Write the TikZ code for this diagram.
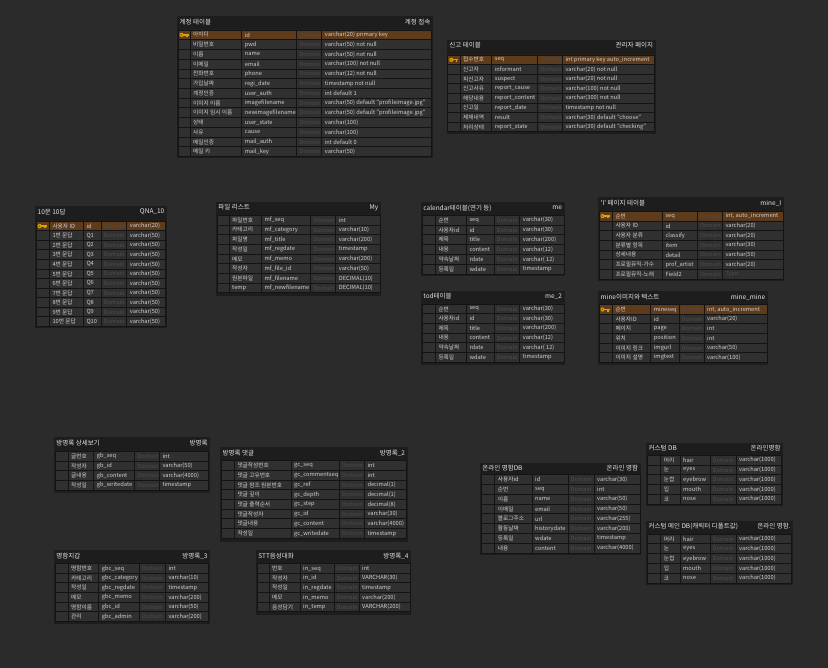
\documentclass[tikz,border=0pt]{standalone}
\usepackage{fontspec}
\setmainfont{Noto Sans CJK KR}

\definecolor{canvas}{HTML}{2B2B2B}
\definecolor{panelbg}{HTML}{1D1D1D}
\definecolor{cellbg}{HTML}{303030}
\definecolor{cellline}{HTML}{141414}
\definecolor{keybg}{HTML}{5E3B1B}
\definecolor{keygold}{HTML}{D8A300}
\definecolor{titletext}{HTML}{E6E6E6}
\definecolor{celltext}{HTML}{D0D0D0}
\definecolor{dimtext}{HTML}{4C4C4C}

\tikzset{
  panel/.style={fill=panelbg},
  cell/.style={fill=cellbg, draw=cellline, line width=0.9pt},
  keycell/.style={fill=keybg, draw=cellline, line width=0.9pt},
  ttitle/.style={text=titletext, font=\fontsize{6.5}{7}\selectfont, inner sep=0pt},
  ctext/.style={text=celltext, font=\fontsize{5.7}{6}\selectfont, inner sep=0pt, anchor=west},
  dtext/.style={ctext, text=dimtext},
}

% panel of one table: name, x1, y1, x2, y2, title y, left title, right title
\newcommand{\erpanel}[8]{%
  \fill[panel] (#2,#3) rectangle (#4,#5);
  \node[ttitle, anchor=west] (#1-tl) at (#2+2.5,#6) {#7};
  \node[ttitle, anchor=east] (#1-tr) at (#4-2.5,#6) {#8};
  \def\tbl{#1}}

% column edges, top of first row, row height
\newcommand{\ercols}[8]{\def\cA{#1}\def\cB{#2}\def\cC{#3}\def\cD{#4}\def\cE{#5}\def\cF{#6}\def\rT{#7}\def\rH{#8}}

% one row: style, index, logical, physical, type
\newcommand{\errow}[5]{%
  \pgfmathsetmacro{\rya}{\rT+(#2-1)*\rH}
  \pgfmathsetmacro{\ryb}{\rya+\rH}
  \pgfmathsetmacro{\rym}{\rya+\rH/2}
  \path[#1] (\cA,\rya) rectangle (\cB,\ryb) (\cB,\rya) rectangle (\cC,\ryb)
    (\cC,\rya) rectangle (\cD,\ryb) (\cD,\rya) rectangle (\cE,\ryb)
    (\cE,\rya) rectangle (\cF,\ryb);
  \node[ctext] (\tbl-#2-l) at (\cB+3,\rym) {#3};
  \node[ctext] (\tbl-#2-p) at (\cC+3,\rym) {#4};
  \node[dtext] (\tbl-#2-d) at (\cD+2.5,\rym) {Domain};
  \node[ctext] (\tbl-#2-t) at (\cE+3,\rym) {#5};}

% primary key row (always the first one)
\newcommand{\erkey}[3]{%
  \errow{keycell}{1}{#1}{#2}{#3}
  \fill[keygold] (\cA+3.6,\rym) circle (2.1);
  \fill[keygold] (\cA+4.8,\rym-0.9) rectangle (\cA+10.5,\rym+0.7);
  \fill[keygold] (\cA+8.3,\rym+0.7) rectangle (\cA+9.5,\rym+2.1);
  \fill[keybg] (\cA+3.3,\rym) circle (0.7);}

\begin{document}
\begin{tikzpicture}[x=1pt, y=-1pt]
\fill[canvas] (0,0) rectangle (828,668);
\useasboundingbox (0,0) rectangle (828,668);

% 계정 테이블
\erpanel{acct}{177}{16}{433}{158}{22}{계정 테이블}{계정 접속}
\ercols{178}{190}{241.7}{296.7}{321.7}{431.7}{30}{9.74}
\erkey{아이디}{id}{varchar(20) primary key}
\foreach \lname/\pname/\tname [count=\i from 2] in {
  비밀번호/pwd/varchar(50) not null, 이름/name/varchar(50) not null,
  이메일/email/varchar(100) not null, 전화번호/phone/varchar(12) not null,
  가입날짜/regi\_date/timestamp not null, 계정인증/user\_auth/int default 1,
  이미지 이름/imagefilename/varchar(50) default "profileimage.jpg",
  이미지 임시 이름/newimagefilename/varchar(50) default "profileimage.jpg",
  상태/user\_state/varchar(100), 사유/cause/varchar(100),
  메일인증/mail\_auth/int default 0, 메일 키/mail\_key/varchar(50)}
  {\errow{cell}{\i}{\lname}{\pname}{\tname}}

% 신고 테이블
\erpanel{report}{446.7}{40}{655.7}{134}{45.5}{신고 테이블}{관리자 페이지}
\ercols{447.7}{460}{491.7}{537.7}{562.3}{654.3}{55}{9.6}
\erkey{접수번호}{seq}{int primary key auto\_increment}
\foreach \lname/\pname/\tname [count=\i from 2] in {
  신고자/informant/varchar(20) not null, 피신고자/suspect/varchar(20) not null,
  신고사유/report\_cause/varchar(100) not null,
  해당내용/report\_content/varchar(300) not null,
  신고일/report\_date/timestamp not null,
  제재내역/result/varchar(30) default "choose",
  처리상태/report\_state/varchar(30) default "checking"}
  {\errow{cell}{\i}{\lname}{\pname}{\tname}}

% 10문 10답
\erpanel{qna}{35}{206}{167}{328.5}{212}{10문 10답}{QNA\_10}
\ercols{36}{49.3}{83.3}{101}{126.7}{165}{221.3}{9.55}
\erkey{사용자 ID}{id}{varchar(20)}
\foreach \n [count=\i from 2] in {1,...,10}
  {\errow{cell}{\i}{{\n}번 문답}{Q\n}{varchar(50)}}

% 파일 리스트
\erpanel{file}{215.7}{202}{381}{296}{207.5}{파일 리스트}{My}
\ercols{217}{229}{261.3}{310.7}{335.7}{380}{215.3}{9.7}
\foreach \lname/\pname/\tname [count=\i] in {
  파일번호/mf\_seq/int, 카테고리/mf\_category/varchar(10),
  파일명/mf\_title/varchar(200), 작성일/mf\_regdate/timestamp,
  메모/mf\_memo/varchar(200), 작성자/mf\_file\_id/varchar(50),
  원본파일/mf\_filename/DECIMAL(10), temp/mf\_newfilename/DECIMAL(10)}
  {\errow{cell}{\i}{\lname}{\pname}{\tname}}

% calendar / tod
\erpanel{cal}{420.7}{202}{564.7}{276.5}{208}{calendar테이블(연기 등)}{me}
\ercols{422}{435.3}{466.3}{494}{519.7}{564}{215.3}{9.78}
\foreach \lname/\pname/\tname [count=\i] in {
  순번/seq/varchar(30), 사용자id/id/varchar(30), 제목/title/varchar(200),
  내용/content/varchar(12), 약속날짜/rdate/varchar( 12), 등록일/wdate/timestamp}
  {\errow{cell}{\i}{\lname}{\pname}{\tname}}

\erpanel{tod}{420.7}{290.7}{564.7}{364.7}{296.5}{tod테이블}{me\_2}
\ercols{422}{435.3}{466.3}{494}{519.7}{564}{304}{9.67}
\foreach \lname/\pname/\tname [count=\i] in {
  순번/seq/varchar(30), 사용자id/id/varchar(30), 제목/title/varchar(200),
  내용/content/varchar(12), 약속날짜/rdate/varchar( 12), 등록일/wdate/timestamp}
  {\errow{cell}{\i}{\lname}{\pname}{\tname}}

% 'I' 페이지 / mine
\erpanel{minei}{598}{197.3}{784}{281}{203.5}{\textquotesingle I\textquotesingle{} 페이지 테이블}{mine\_I}
\ercols{599}{612.3}{662.3}{697.3}{722.3}{783}{211.3}{9.67}
\erkey{순번}{seq}{int, auto\_increment}
\foreach \lname/\pname/\tname [count=\i from 2] in {
  사용자 ID/id/varchar(20), 사용자 분류/classify/varchar(20),
  분류별 항목/item/varchar(30), 상세내용/detail/varchar(50),
  프로필뮤직-가수/prof\_artist/varchar(20),
  프로필뮤직-노래/Field2/\textcolor{dimtext}{Type}}
  {\errow{cell}{\i}{\lname}{\pname}{\tname}}

\erpanel{mine}{598}{290.7}{768}{364.7}{297}{mine이미지와 텍스트}{mine\_mine}
\ercols{599}{612.3}{650.7}{679}{704}{767}{304.7}{9.6}
\erkey{순번}{mineseq}{int, auto\_increment}
\foreach \lname/\pname/\tname [count=\i from 2] in {
  사용자ID/id/varchar(20), 페이지/page/int, 위치/position/int,
  이미지 링크/imgurl/varchar(50), 이미지 설명/imgtext/varchar(100)}
  {\errow{cell}{\i}{\lname}{\pname}{\tname}}

% 방명록
\erpanel{guest}{53.7}{437}{210.3}{493}{442.7}{방명록 상세보기}{방명록}
\ercols{55.3}{68}{93.7}{134.7}{159.3}{208.7}{451.3}{9.75}
\foreach \lname/\pname/\tname [count=\i] in {
  글번호/gb\_seq/int, 작성자/gb\_id/varchar(50),
  글내용/gb\_content/varchar(4000), 작성일/gb\_writedate/timestamp}
  {\errow{cell}{\i}{\lname}{\pname}{\tname}}

\erpanel{gcomm}{220}{447.3}{407.7}{541.7}{453.3}{방명록 댓글}{방명록\_2}
\ercols{221.3}{234.3}{291}{339.3}{364.3}{406}{460.7}{9.7}
\foreach \lname/\pname/\tname [count=\i] in {
  댓글작성번호/gc\_seq/int, 댓글 고유번호/gc\_commentseq/int,
  댓글 참조 원본번호/gc\_ref/decimal(1), 댓글 깊이/gc\_depth/decimal(1),
  댓글 출력순서/gc\_step/decimal(8), 댓글작성자/gc\_id/varchar(30),
  댓글내용/gc\_content/varchar(4000), 작성일/gc\_writedate/timestamp}
  {\errow{cell}{\i}{\lname}{\pname}{\tname}}

% 온라인 명함
\erpanel{card}{479.7}{463}{640.7}{555}{468}{온라인 명함DB}{온라인 명함}
\ercols{481.3}{494.7}{532}{568}{594}{640}{474.7}{9.8}
\foreach \lname/\pname/\tname [count=\i] in {
  사용자id/id/varchar(30), 순번/seq/int, 이름/name/varchar(50),
  이메일/email/varchar(50), 블로그주소/url/varchar(255),
  활동날짜/historydate/varchar(200), 등록일/wdate/timestamp,
  내용/content/varchar(4000)}
  {\errow{cell}{\i}{\lname}{\pname}{\tname}}

% 커스텀
\erpanel{custom}{646}{443}{783.3}{506.3}{448}{커스텀 DB}{온라인명함}
\ercols{647.3}{660.7}{680}{710}{736}{781.7}{455.3}{9.73}
\foreach \lname/\pname [count=\i] in {머리/hair, 눈/eyes, 눈썹/eyebrow, 입/mouth, 코/nose}
  {\errow{cell}{\i}{\lname}{\pname}{varchar(1000)}}

\erpanel{cmain}{646}{521.3}{793.3}{584.7}{526.5}{커스텀 메인 DB(캐릭터 디폴트값)}{온라인 명함.}
\ercols{647.3}{660.7}{680}{710}{736}{791.7}{534}{9.8}
\foreach \lname/\pname [count=\i] in {머리/hair, 눈/eyes, 눈썹/eyebrow, 입/mouth, 코/nose}
  {\errow{cell}{\i}{\lname}{\pname}{varchar(1000)}}

% 명함지갑 / STT
\erpanel{wallet}{53.7}{550}{210.3}{623.7}{556.3}{명함지갑}{방명록\_3}
\ercols{55.3}{68}{98.7}{139.3}{165.3}{208.7}{563.7}{9.6}
\foreach \lname/\pname/\tname [count=\i] in {
  명함번호/gbc\_seq/int, 카테고리/gbc\_category/varchar(10),
  작성일/gbc\_regdate/timestamp, 메모/gbc\_memo/varchar(200),
  명함이름/gbc\_id/varchar(50), 관리/gbc\_admin/varchar(200)}
  {\errow{cell}{\i}{\lname}{\pname}{\tname}}

\erpanel{stt}{255.7}{550}{411.3}{614.7}{556.3}{STT음성대화}{방명록\_4}
\ercols{257.3}{269}{300}{334}{359}{410}{563.7}{9.6}
\foreach \lname/\pname/\tname [count=\i] in {
  번호/in\_seq/int, 작성자/in\_id/VARCHAR(30), 작성일/in\_regdate/timestamp,
  메모/in\_memo/varchar(200), 음성담기/in\_temp/VARCHAR(200)}
  {\errow{cell}{\i}{\lname}{\pname}{\tname}}

\end{tikzpicture}
\end{document}
